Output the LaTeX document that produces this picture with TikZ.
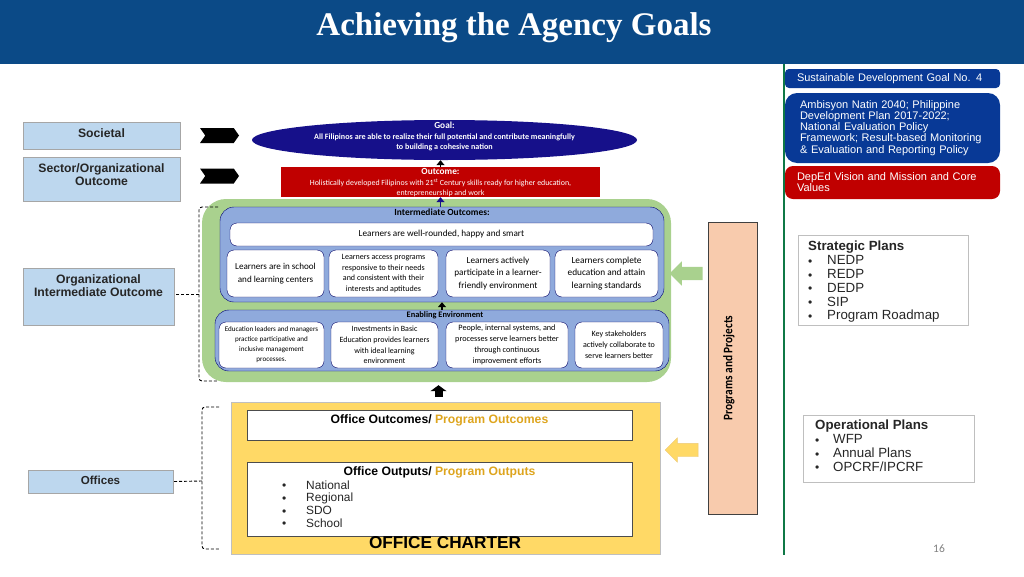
\documentclass[tikz,border=0pt]{standalone}
\usepackage{fontspec}
\setsansfont{Liberation Sans}
\newfontfamily\calibri{Carlito}
\newfontfamily\titlefont{Liberation Serif}
\usepackage{xcolor}
\usetikzlibrary{arrows.meta, positioning, shapes.geometric, shapes.symbols, shapes.arrows}
\definecolor{head1}{RGB}{11,74,135}
\definecolor{level1}{RGB}{189,215,238}
\definecolor{navy1}{RGB}{22,16,138}
\definecolor{red1}{RGB}{192,0,0}
\definecolor{green1}{RGB}{169,209,142}
\definecolor{blue1}{RGB}{143,170,220}
\definecolor{yellow1}{RGB}{255,217,102}
\definecolor{gold1}{RGB}{222,165,30}
\definecolor{peach1}{RGB}{248,203,173}
\definecolor{side1}{RGB}{8,57,150}
\definecolor{line1}{RGB}{15,120,70}
\newcommand{\fs}[2]{\fontsize{#1}{#2}\selectfont}
\newcommand{\bigdot}{\raisebox{-0.6pt}{\fs{12}{12}\textbullet}}
\newcommand{\bul}[1][19pt]{\makebox[#1][l]{\bigdot}}

\begin{document}
\begin{tikzpicture}[
    x=1pt, y=-1pt,
    sized/.style 2 args={minimum width=#1, minimum height=#2, inner sep=0pt},
    levelbox/.style={rectangle, draw=black!35, fill=level1, semithick},
    leveltext/.style={font=\sffamily\bfseries\fs{12.2}{13}, align=center, text=black!85, inner sep=0pt},
    card/.style={rectangle, draw=blue!40!black, fill=white, rounded corners=7pt, align=center, inner sep=0pt},
    panel/.style={rectangle, draw=blue!45!black, fill=blue1, rounded corners=14pt},
    plain/.style={rectangle, draw=black!70, fill=white},
    sidebox/.style={rectangle, rounded corners=8pt, text=white, align=left, inner ysep=0pt,
        font=\sffamily\fs{11}{11.1}},
    planbox/.style={rectangle, draw=black!25, fill=white, semithick},
    plantext/.style={font=\sffamily\fs{13.3}{13.8}, align=left, inner sep=0pt, text=black!85},
    chevron/.style={signal, signal to=east, signal from=west, fill=black, signal pointer angle=110,
        minimum width=39pt, minimum height=15pt, inner sep=0pt},
    blockarrow/.style={single arrow, single arrow head extend=5.5pt, inner sep=0pt, text height=13pt,
        minimum height=33pt, minimum width=24pt, shape border rotate=180},
    myarrow/.style={-{Triangle[length=5pt, width=8pt]}, line width=1.6pt},
    brace/.style={densely dashed, line width=0.9pt, rounded corners=3pt}
]
\useasboundingbox (0,0) rectangle (1024,576);

% Header
\node[rectangle, fill=head1, sized={1024pt}{64pt}] (header) at (512,32) {};
\node[text=white, font=\titlefont\bfseries\fs{33}{36}, inner sep=0pt] (title) at (514,28) {Achieving the Agency Goals};

% Levels on the left
\node[levelbox, sized={157pt}{27pt}] (societal) at (101.5,135.5) {};
\node[leveltext, below=6.5pt of societal.north] (societaltxt) {Societal};
\node[levelbox, sized={157pt}{44pt}] (sector) at (101.5,179) {};
\node[leveltext, below=6.5pt of sector.north] (sectortxt) {Sector/Organizational\\Outcome};
\node[levelbox, sized={151pt}{57pt}] (intermed) at (98.5,296.5) {};
\node[leveltext, below=6.5pt of intermed.north] (intermedtxt) {Organizational\\Intermediate Outcome};
\node[levelbox, sized={145pt}{23pt}] (offices) at (100.5,481.5) {};
\node[leveltext, font=\sffamily\bfseries\fs{11.6}{12}] (officestxt) at (100.5,480) {Offices};

\node[chevron] (chev1) at (219.5,135.5) {};
\node[chevron] (chev2) at (219.5,176) {};

% Goal and outcome
\node[ellipse, fill=navy1, sized={385pt}{40pt}] (goal) at (444.5,140) {};
\node[text=white, align=center, inner sep=0pt, font=\calibri\bfseries\fs{8.1}{10.5}] (goaltxt) at (444.5,136.5)
    {{\fs{9.3}{10.5}Goal:}\\All Filipinos are able to realize their full potential and contribute meaningfully\\to building a cohesive nation};
\node[rectangle, fill=red1, sized={319pt}{30pt}] (outcome) at (440.5,182) {};
\node[text=white, align=center, inner sep=0pt, font=\calibri\fs{7.9}{10.5}, below=1.5pt of outcome.north] (outcometxt)
    {\textbf{\fs{9.3}{10.5}Outcome:}\\Holistically developed Filipinos with 21\textsuperscript{st} Century skills ready for higher education,\\entrepreneurship and work};

% Green block
\node[rectangle, fill=green1, rounded corners=24pt, sized={469pt}{183pt}] (green) at (436.5,290.5) {};
\node[panel, sized={444pt}{95pt}] (panelup) at (442,254.5) {};
\node[panel, sized={454pt}{61pt}] (paneldown) at (442,340.5) {};
\node[font=\calibri\bfseries\fs{9.4}{10}, inner sep=0pt, below=2pt of panelup.north] (panelupttl) {Intermediate Outcomes:};
\node[font=\calibri\bfseries\fs{8.4}{10}, inner sep=0pt, below=2pt of paneldown.north, xshift=3pt] (paneldownttl) {Enabling Environment};

\node[card, sized={423pt}{23pt}, font=\calibri\fs{9.2}{12}] (smart) at (441.5,234.5) {Learners are well-rounded, happy and smart};
\node[card, sized={97pt}{47pt}, font=\calibri\fs{9.1}{12.8}] (io1) at (275.5,273.5) {Learners are in school\\and learning centers};
\node[card, sized={109pt}{47pt}, font=\calibri\fs{8.05}{10.6}] (io2) at (383.5,273.5) {Learners access programs\\responsive to their needs\\and consistent with their\\interests and aptitudes};
\node[card, sized={104pt}{47pt}, font=\calibri\fs{9.2}{12.8}] (io3) at (498,273.5) {Learners actively\\participate in a learner-\\friendly environment};
\node[card, sized={103pt}{47pt}, font=\calibri\fs{9.3}{12.8}] (io4) at (606.5,273.5) {Learners complete\\education and attain\\learning standards};

\node[card, sized={105pt}{46pt}, font=\calibri\fs{7.1}{10}] (ee1) at (271.5,345) {Education leaders and managers\\practice participative and\\inclusive management\\processes.};
\node[card, sized={107pt}{46pt}, font=\calibri\fs{8}{10.6}] (ee2) at (384.5,345) {Investments in Basic\\Education provides learners\\with ideal learning\\environment};
\node[card, sized={122pt}{46pt}, font=\calibri\fs{8.2}{11.2}] (ee3) at (507,345) {People, internal systems, and\\processes serve learners better\\through continuous\\improvement efforts};
\node[card, sized={88pt}{46pt}, font=\calibri\fs{8.05}{11.2}] (ee4) at (619,345) {Key stakeholders\\actively collaborate to\\serve learners better};

% Yellow block
\node[rectangle, draw=black!25, fill=yellow1, sized={429pt}{152pt}] (charter) at (445.5,478) {};
\node[plain, sized={385pt}{30pt}] (ooutcome) at (439.5,425) {};
\node[font=\sffamily\fs{12.2}{13}, inner sep=0pt, below=5pt of ooutcome.north] (ooutcometxt)
    {\textbf{Office Outcomes/} \textcolor{gold1}{\textbf{Program Outcomes}}};
\node[plain, sized={385pt}{74pt}] (ooutput) at (439.5,499) {};
\node[font=\sffamily\fs{12.2}{13}, inner sep=0pt, below=5pt of ooutput.north] (ooutputttl)
    {\textbf{Office Outputs/} \textcolor{gold1}{\textbf{Program Outputs}}};
\node[plantext, font=\sffamily\fs{11.9}{12.6}, anchor=north west] (olist) at (282,480.5)
    {\bul[24pt]National\\\bul[24pt]Regional\\\bul[24pt]SDO\\\bul[24pt]School};
\node[font=\sffamily\bfseries\fs{17.2}{18}, inner sep=0pt] (charterttl) at (445,543) {OFFICE CHARTER};

% Programs and Projects
\node[rectangle, draw=black!75, fill=peach1, sized={49pt}{292pt}] (programs) at (732.5,368) {};
\node[rotate=90, xscale=0.87, font=\calibri\bfseries\fs{13}{14}, inner sep=0pt] (programstxt) at (729,368) {Programs and Projects};
\node[blockarrow, fill=green1] (arrowgreen) at (689.5,273.5) {};
\node[blockarrow, fill=yellow1, draw=gold1!60] (arrowyellow) at (685,450) {};

% Right column
\draw[line1, line width=2.2pt] (784,64) coordinate (railtop) -- (784,555) coordinate (railbot);
\node[sidebox, fill=side1, rounded corners=4pt, minimum height=19pt, inner xsep=12pt, text width=191pt] (sdg) at (892.5,78.5) {Sustainable Development Goal No. 4};
\node[sidebox, fill=side1, minimum height=70pt, rounded corners=12pt, inner xsep=15pt, text width=185pt] (plans) at (892.5,128) {Ambisyon Natin 2040; Philippine\\Development Plan 2017-2022;\\National Evaluation Policy\\Framework; Result-based Monitoring\\\& Evaluation and Reporting Policy};
\node[sidebox, fill=red1, minimum height=33pt, inner xsep=12pt, text width=191pt] (vision) at (892.5,182.5) {DepEd Vision and Mission and Core\\Values};

\node[planbox, sized={170pt}{90pt}] (strategic) at (883,280) {};
\node[plantext, anchor=north west] (strategictxt) at (808,241)
    {\textbf{Strategic Plans}\\\bul NEDP\\\bul REDP\\\bul DEDP\\\bul SIP\\\bul Program Roadmap};
\node[planbox, sized={171pt}{67pt}] (operational) at (888.5,448.5) {};
\node[plantext, anchor=north west] (operationaltxt) at (815,420)
    {\textbf{Operational Plans}\\\bul[18pt]WFP\\\bul[18pt]Annual Plans\\\bul[18pt]OPCRF/IPCRF};
\node[font=\calibri\fs{11.5}{12}, text=black!50, inner sep=0pt] (pagenum) at (939,549) {16};

% Arrows between the levels
\draw[myarrow] (outcome.north) -- (outcome.north |- goal.south);
\draw[myarrow, navy1] (panelup.north -| outcome.north) -- (outcome.south);
\draw[myarrow] (paneldown.north -| panelup.south) -- (panelup.south);
\coordinate (upfoot) at (438.5,397);
\draw[-{Triangle[length=6pt, width=16pt]}, line width=8pt, shorten >=3pt] (upfoot) -- (green.south -| upfoot);

% Dashed brackets
\coordinate (iotop) at (218,207);
\coordinate (iobot) at (218,381);
\coordinate (iomid) at (199,294);
\draw[brace] (iotop) -| (iomid) |- (iobot);
\draw[brace] (iomid) -- (iomid -| intermed.east);
\coordinate (oftop) at (219,407);
\coordinate (ofbot) at (219,549);
\coordinate (ofmid) at (202,481);
\draw[brace] (oftop) -| (ofmid) |- (ofbot);
\draw[brace] (ofmid) -- (offices.east);
\end{tikzpicture}
\end{document}
